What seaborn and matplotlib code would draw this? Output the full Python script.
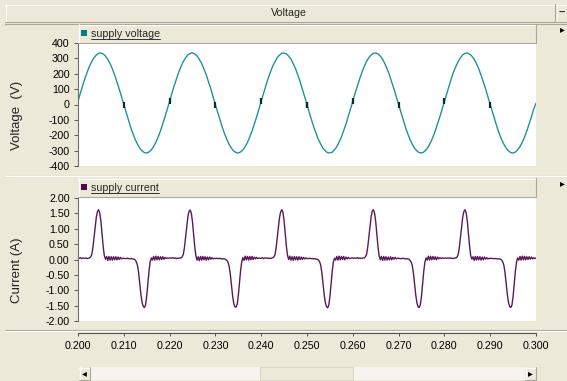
import numpy as np
import pandas as pd
import matplotlib
matplotlib.use("Agg")
import matplotlib.pyplot as plt
from matplotlib.patches import Rectangle
from matplotlib.lines import Line2D
import seaborn as sns

# ---------------- data ----------------
title_text = "Voltage"
voltage_ylabel = "Voltage  (V)"
current_ylabel = "Current (A)"
voltage_name = "supply voltage"
current_name = "supply current"

time_ticks = [0.200, 0.210, 0.220, 0.230, 0.240, 0.250, 0.260, 0.270, 0.280, 0.290, 0.300]
voltage_ticks = [-400, -300, -200, -100, 0, 100, 200, 300, 400]
current_ticks = [-2.00, -1.50, -1.00, -0.50, 0.00, 0.50, 1.00, 1.50, 2.00]

# supply voltage, samples every 0.5 ms from 0.200 s to 0.300 s
voltage_v = [
    21, 72, 121, 168, 210, 248, 279, 305, 322, 333, 335, 329, 315, 294, 266, 232, 192, 147, 100, 50,
    -1, -52, -101, -148, -190, -228, -259, -285, -302, -313, -315, -309, -295, -274, -246, -212, -172, -127, -80, -30,
    20, 71, 122, 167, 211, 247, 280, 304, 323, 332, 336, 328, 316, 293, 267, 231, 193, 146, 101, 49,
    -2, -51, -102, -147, -191, -227, -260, -284, -303, -312, -316, -308, -296, -273, -247, -211, -173, -126, -81, -29,
    22, 72, 120, 169, 209, 249, 278, 306, 321, 334, 334, 330, 314, 295, 265, 233, 191, 148, 99, 51,
    0, -53, -100, -149, -189, -229, -258, -286, -301, -314, -314, -310, -294, -275, -245, -213, -171, -128, -79, -31,
    21, 73, 121, 167, 210, 248, 280, 305, 322, 333, 335, 329, 315, 294, 266, 232, 192, 147, 100, 50,
    -1, -52, -101, -148, -190, -228, -259, -285, -302, -313, -315, -309, -295, -274, -246, -212, -172, -127, -80, -30,
    20, 72, 122, 168, 211, 247, 279, 304, 323, 333, 335, 328, 315, 294, 267, 232, 191, 147, 100, 50,
    -1, -51, -101, -148, -191, -228, -259, -285, -302, -313, -316, -309, -295, -274, -246, -212, -172, -127, -80, -30,
    8,
]

# supply current, samples every 0.25 ms from 0.200 s to 0.300 s
current_a = [
    0.05, 0.04, 0.06, 0.03, 0.05, 0.04, 0.04, 0.05, 0.03, 0.04,
    0.05, 0.08, 0.16, 0.38, 0.72, 1.08, 1.38, 1.56, 1.62, 1.52,
    1.25, 0.85, 0.42, 0.12, 0.01, 0.10, -0.03, 0.10, -0.02, 0.09,
    -0.02, 0.09, -0.01, 0.09, -0.01, 0.08, 0.00, 0.07, 0.02, 0.04,
    0.04, 0.03, 0.03, 0.04, 0.03, 0.03, 0.02, 0.03, 0.02, 0.01,
    -0.02, -0.08, -0.20, -0.45, -0.80, -1.15, -1.40, -1.53, -1.56, -1.48,
    -1.20, -0.80, -0.38, -0.08, 0.05, -0.02, 0.10, -0.02, 0.11, -0.01,
    0.10, -0.01, 0.09, 0.00, 0.09, 0.01, 0.07, 0.03, 0.05, 0.04,

    0.05, 0.05, 0.04, 0.06, 0.04, 0.05, 0.03, 0.04, 0.04, 0.05,
    0.05, 0.09, 0.17, 0.40, 0.74, 1.10, 1.40, 1.57, 1.61, 1.50,
    1.22, 0.82, 0.40, 0.11, -0.02, 0.09, -0.04, 0.10, -0.02, 0.10,
    -0.01, 0.09, -0.02, 0.08, -0.01, 0.08, 0.01, 0.06, 0.02, 0.04,
    0.03, 0.04, 0.03, 0.03, 0.04, 0.02, 0.03, 0.02, 0.02, 0.00,
    -0.03, -0.09, -0.22, -0.47, -0.82, -1.17, -1.42, -1.54, -1.55, -1.46,
    -1.18, -0.78, -0.36, -0.07, 0.06, -0.03, 0.11, -0.01, 0.10, -0.02,
    0.10, -0.01, 0.10, 0.00, 0.08, 0.02, 0.07, 0.03, 0.05, 0.04,

    0.04, 0.06, 0.03, 0.05, 0.05, 0.04, 0.05, 0.03, 0.04, 0.04,
    0.06, 0.08, 0.15, 0.37, 0.71, 1.07, 1.37, 1.55, 1.62, 1.53,
    1.26, 0.86, 0.43, 0.13, 0.00, 0.11, -0.02, 0.09, -0.03, 0.10,
    -0.01, 0.09, -0.02, 0.09, 0.00, 0.08, 0.00, 0.07, 0.02, 0.05,
    0.03, 0.03, 0.04, 0.03, 0.03, 0.03, 0.02, 0.03, 0.01, 0.01,
    -0.02, -0.07, -0.19, -0.44, -0.79, -1.14, -1.40, -1.53, -1.57, -1.49,
    -1.21, -0.81, -0.39, -0.09, 0.04, -0.02, 0.10, -0.02, 0.11, -0.01,
    0.10, 0.00, 0.10, -0.01, 0.08, 0.02, 0.07, 0.03, 0.04, 0.05,

    0.05, 0.04, 0.05, 0.04, 0.06, 0.03, 0.05, 0.04, 0.04, 0.05,
    0.05, 0.09, 0.16, 0.39, 0.73, 1.09, 1.39, 1.57, 1.62, 1.51,
    1.24, 0.84, 0.41, 0.12, -0.01, 0.10, -0.03, 0.10, -0.02, 0.09,
    -0.02, 0.08, -0.01, 0.09, -0.01, 0.07, 0.01, 0.07, 0.02, 0.04,
    0.04, 0.03, 0.03, 0.03, 0.04, 0.03, 0.02, 0.03, 0.02, 0.01,
    -0.03, -0.08, -0.21, -0.46, -0.81, -1.16, -1.41, -1.54, -1.56, -1.47,
    -1.19, -0.79, -0.37, -0.08, 0.05, -0.02, 0.11, -0.02, 0.10, -0.01,
    0.10, 0.00, 0.09, -0.01, 0.08, 0.02, 0.06, 0.03, 0.05, 0.04,

    0.04, 0.05, 0.04, 0.05, 0.04, 0.05, 0.04, 0.04, 0.03, 0.05,
    0.05, 0.08, 0.16, 0.38, 0.72, 1.08, 1.38, 1.56, 1.62, 1.52,
    1.25, 0.85, 0.42, 0.12, 0.01, 0.09, -0.03, 0.10, -0.02, 0.10,
    -0.01, 0.09, -0.02, 0.08, -0.01, 0.08, 0.01, 0.06, 0.02, 0.04,
    0.03, 0.04, 0.03, 0.03, 0.03, 0.03, 0.02, 0.02, 0.02, 0.01,
    -0.02, -0.08, -0.20, -0.45, -0.80, -1.15, -1.40, -1.53, -1.56, -1.48,
    -1.20, -0.80, -0.38, -0.08, 0.05, -0.02, 0.10, -0.02, 0.11, -0.01,
    0.10, -0.01, 0.09, 0.00, 0.09, 0.01, 0.08, 0.02, 0.06, 0.03,
    0.05,
]

t_start, t_end = 0.200, 0.300
voltage_df = pd.DataFrame({"time": np.linspace(t_start, t_end, len(voltage_v)),
                           "voltage": voltage_v})
current_df = pd.DataFrame({"time": np.linspace(t_start, t_end, len(current_a)),
                           "current": current_a})

# ---------------- styling ----------------
BG = "#ECE9D8"
SHADOW = "#ACA899"
VCOL = "#1f9494"
ICOL = "#5a1a5a"

sns.set_theme(style="white")
plt.rcParams["font.family"] = ["Liberation Sans", "DejaVu Sans"]
plt.rcParams["axes.unicode_minus"] = False

W, H = 567, 381
fig = plt.figure(figsize=(W / 100, H / 100), dpi=100, facecolor=BG)


def fx(x):
    return x / W


def fy(y):
    return 1 - y / H


def rect(x0, y0, x1, y1, fc, ec="none", lw=0.8, z=0.5):
    fig.add_artist(Rectangle((fx(x0), fy(y1)), fx(x1) - fx(x0), fy(y0) - fy(y1),
                             transform=fig.transFigure, facecolor=fc, edgecolor=ec,
                             lw=lw, zorder=z))


def hline(y, x0, x1, c, lw=0.8, z=0.6):
    fig.add_artist(Line2D([fx(x0), fx(x1)], [fy(y), fy(y)], transform=fig.transFigure,
                          color=c, lw=lw, zorder=z))


def vline(x, y0, y1, c, lw=0.8, z=0.6):
    fig.add_artist(Line2D([fx(x), fx(x)], [fy(y0), fy(y1)], transform=fig.transFigure,
                          color=c, lw=lw, zorder=z))


def bevel(x0, y0, x1, y1):
    rect(x0, y0, x1, y1, BG)
    hline(y0 + 0.5, x0, x1, "white")
    vline(x0 + 0.5, y0, y1, "white")
    hline(y1 - 0.5, x0, x1, SHADOW)
    vline(x1 - 0.5, y0, y1, SHADOW)


# window chrome
bevel(5, 4, 555, 22)
bevel(556, 4, 567, 22)
fig.text(fx(561.5), fy(13), "–", ha="center", va="center", fontsize=8, fontweight="bold")
fig.text(fx(289), fy(13), title_text, ha="center", va="center", fontsize=7.7)
hline(23.5, 5, 567, SHADOW)
hline(175.5, 5, 567, SHADOW)
hline(176.5, 5, 567, "white")
hline(329.5, 5, 567, SHADOW)
hline(330.5, 5, 567, "white")
bevel(78, 24, 536, 43)
bevel(78, 178, 536, 197)
fig.text(fx(560), fy(29), "▸", ha="left", va="center", fontsize=7, color="black")
fig.text(fx(560), fy(183), "▸", ha="left", va="center", fontsize=7, color="black")

# scrollbar
rect(90, 367, 525, 380, "#F5F4EE")
rect(260, 367, 353, 380, BG, ec="#D6D2C2", lw=0.6)
bevel(79, 367, 90, 380)
bevel(525, 367, 536, 380)
fig.text(fx(84.5), fy(373.5), "◂", ha="center", va="center", fontsize=7, color="black")
fig.text(fx(530.5), fy(373.5), "▸", ha="center", va="center", fontsize=7, color="black")

# legend chips
rect(81, 30, 87, 36, "#008080", z=0.7)
rect(81, 184, 87, 190, "#4b0a4b", z=0.7)
leg_v = fig.text(fx(91), fy(34), voltage_name, ha="left", va="center", fontsize=7.7)
leg_i = fig.text(fx(91), fy(188), current_name, ha="left", va="center", fontsize=7.7)

# ---------------- axes ----------------
ax_v = fig.add_axes([fx(78), fy(166), fx(536) - fx(78), fy(43) - fy(166)])
ax_i = fig.add_axes([fx(78), fy(321), fx(536) - fx(78), fy(198) - fy(321)])

sns.lineplot(data=voltage_df, x="time", y="voltage", ax=ax_v, color=VCOL, lw=1.0,
             estimator=None)
# short dark marks where the voltage crosses zero (inner crossings only)
vv = np.asarray(voltage_v, dtype=float)
tv = voltage_df["time"].to_numpy()
cross = np.where(np.diff(np.sign(vv)) != 0)[0]
idx = [i if abs(vv[i]) < abs(vv[i + 1]) else i + 1 for i in cross]
idx = [i for i in idx if 0 < i < len(vv) - 1]
ax_v.plot(tv[idx], vv[idx], ls="none", marker="|", ms=5, mew=1.6, color="#0b2a2a",
          zorder=3, clip_on=True)

sns.lineplot(data=current_df, x="time", y="current", ax=ax_i, color=ICOL, lw=1.0,
             estimator=None)

for ax, ticks, lab, fmt in [(ax_v, voltage_ticks, voltage_ylabel, "{:.0f}"),
                            (ax_i, current_ticks, current_ylabel, "{:.2f}")]:
    ax.set_facecolor("white")
    ax.set_xlim(t_start, t_end)
    ax.set_ylim(ticks[0], ticks[-1])
    ax.set_yticks(ticks)
    ax.set_yticklabels([fmt.format(v) for v in ticks])
    ax.set_ylabel(lab, fontsize=9.5, color="#222222")
    ax.yaxis.label.set_va("center")
    ax.yaxis.set_label_coords((17 - 78) / 458, 0.41)
    for s in ["top", "right"]:
        ax.spines[s].set_visible(False)
    ax.spines["left"].set_color("#6e6e6e")
    ax.spines["left"].set_linewidth(0.8)
    ax.tick_params(axis="y", which="both", left=True, direction="out", length=3,
                   width=0.7, color="#555555", labelsize=7.7, pad=3, labelcolor="black")
    ax.set_xlabel("")

ax_v.spines["bottom"].set_visible(False)
ax_v.set_xticks([])

ax_i.set_xticks(time_ticks)
ax_i.set_xticklabels([f"{v:.3f}" for v in time_ticks])
ax_i.spines["bottom"].set_position(("outward", 12 * 0.72))
ax_i.spines["bottom"].set_color("#555555")
ax_i.spines["bottom"].set_linewidth(0.8)
ax_i.tick_params(axis="x", bottom=True, direction="out", length=2.5, width=0.7,
                 color="#555555", labelsize=7.7, pad=3, labelcolor="black")

# underline the legend names
fig.canvas.draw()
r = fig.canvas.get_renderer()
for t in (leg_v, leg_i):
    bb = t.get_window_extent(renderer=r)
    y = bb.y0 / H
    fig.add_artist(Line2D([bb.x0 / W, bb.x1 / W], [y, y], transform=fig.transFigure,
                          color="#333333", lw=0.7, zorder=1))

fig.savefig("out.png", dpi=100, facecolor=BG)
